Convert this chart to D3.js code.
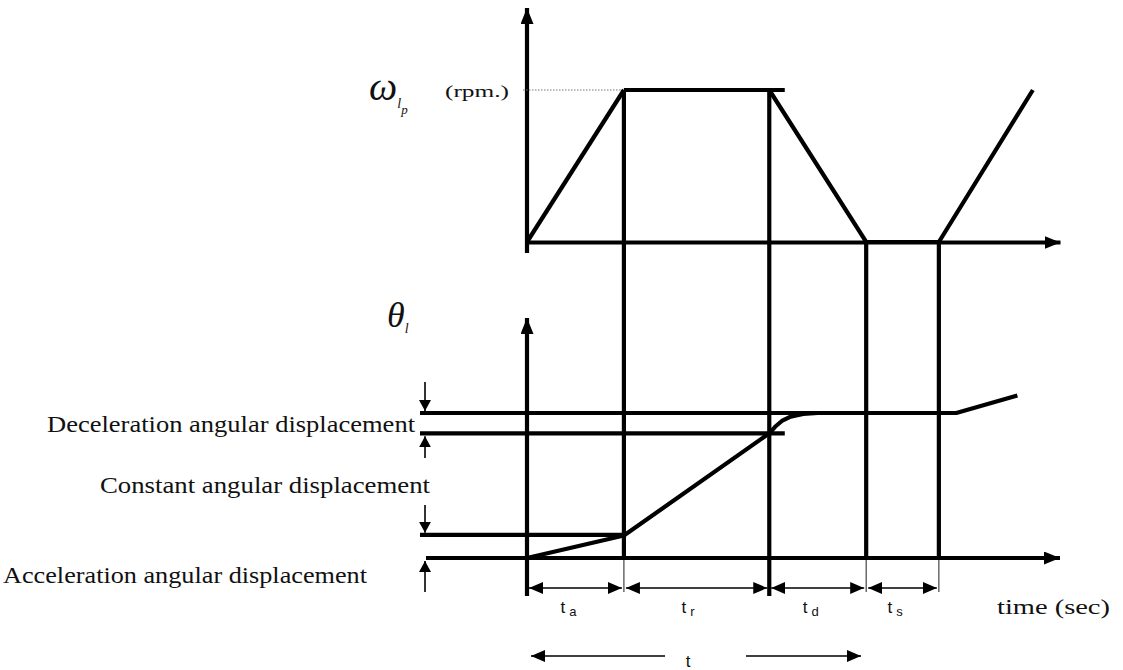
<!DOCTYPE html>
<html>
<head>
<meta charset="utf-8">
<script src="https://cdn.jsdelivr.net/npm/d3@7"></script>
<style>
  body { margin: 0; background: #fff; }
  svg { display: block; }
  .lbl { font-family: "Liberation Serif", "Times New Roman", serif; fill: #111; }
  .sub { font-family: "Liberation Sans", Arial, sans-serif; fill: #111; }
</style>
</head>
<body>
<svg id="chart" width="1123" height="670"></svg>
<script>
// ---- motion profile data (time in arbitrary units) ----
const phaseNames = ["a", "r", "d", "s"];          // t_a, t_r, t_d, t_s
const phaseStarts = [0, 1, 2.5, 3.5];
const phaseEnds = [1, 2.5, 3.5, 4.25];

// speed profile, normalised to the plateau speed
const omegaTimes = [0, 1, 2.5, 3.5, 4.25, 5.22];
const omegaValues = [0, 1, 1, 0, 0, 1];
const plateauEnd = 2.66;                            // plateau stroke overshoots the corner

// angular displacement, normalised to the full move
const thetaTimes = [0, 1, 2.5, 2.56, 2.63, 2.72, 2.85, 3.0, 4.43, 5.06];
const thetaValues = [0, 0.155, 0.86, 0.905, 0.945, 0.975, 0.993, 1.0, 1.0, 1.12];

// reference displacement levels drawn across the lower plot
const levelValues = [1.0, 0.86, 0.16, 0];
const levelEnds = [4.43, 2.66, 1, 5.5];
const levelNames = ["Deceleration angular displacement",
                    "Constant angular displacement",
                    "Acceleration angular displacement"];

const svg = d3.select("#chart");

const x = d3.scaleLinear().domain([0, 5.5]).range([527, 1060]);
const yW = d3.scaleLinear().domain([0, 1]).range([242, 90]);
const yT = d3.scaleLinear().domain([0, 1]).range([558, 413]);

// arrowhead markers
const defs = svg.append("defs");
function marker(id, len, half) {
  defs.append("marker")
    .attr("id", id)
    .attr("markerUnits", "userSpaceOnUse")
    .attr("viewBox", `0 ${-half} ${len} ${2 * half}`)
    .attr("refX", len).attr("refY", 0)
    .attr("markerWidth", len).attr("markerHeight", 2 * half)
    .attr("orient", "auto-start-reverse")
    .append("path")
    .attr("d", `M0,${-half}L${len},0L0,${half}Z`)
    .attr("fill", "#000");
}
marker("axisHead", 16, 6.5);
marker("dimHead", 14, 6);
marker("smallHead", 11, 6);

const thick = 4.2;

// ---------- upper plot: speed ----------
// time axis
const topAxis = svg.append("g")
  .attr("transform", `translate(0,${yW(0)})`)
  .call(d3.axisBottom(x).tickValues([]).tickSizeOuter(0));
topAxis.select(".domain").attr("stroke", "#000").attr("stroke-width", thick)
  .attr("marker-end", "url(#axisHead)");

// speed axis
svg.append("line")
  .attr("x1", x(0)).attr("x2", x(0))
  .attr("y1", yW(0) + 11).attr("y2", 8)
  .attr("stroke", "#000").attr("stroke-width", thick)
  .attr("marker-end", "url(#axisHead)");

// dotted guide at peak speed
svg.append("line")
  .attr("x1", x(0) - 4).attr("x2", x(1))
  .attr("y1", yW(1)).attr("y2", yW(1))
  .attr("stroke", "#777").attr("stroke-width", 1.2)
  .attr("stroke-dasharray", "1.5,1.5");

// speed trace
const wLine = d3.line().x(d => x(d[0])).y(d => yW(d[1]));
const wPts = omegaTimes.map((t, i) => [t, omegaValues[i]]);
svg.append("path")
  .attr("d", wLine(wPts.slice(0, 2)))
  .attr("fill", "none").attr("stroke", "#000").attr("stroke-width", thick);
svg.append("path")
  .attr("d", wLine([[1, 1], [plateauEnd, 1]]))
  .attr("fill", "none").attr("stroke", "#000").attr("stroke-width", thick);
svg.append("path")
  .attr("d", wLine(wPts.slice(2)))
  .attr("fill", "none").attr("stroke", "#000").attr("stroke-width", thick)
  .attr("stroke-linejoin", "miter");

// ---------- phase boundaries ----------
phaseEnds.forEach((t, i) => {
  const top = i < 2 ? yW(1) : yW(0);
  const heavyBottom = i === 1 ? 596 : yT(0);
  svg.append("line")
    .attr("x1", x(t)).attr("x2", x(t))
    .attr("y1", top).attr("y2", heavyBottom)
    .attr("stroke", "#000").attr("stroke-width", thick);
  if (i !== 1) {
    svg.append("line")
      .attr("x1", x(t)).attr("x2", x(t))
      .attr("y1", yT(0)).attr("y2", 592)
      .attr("stroke", "#333").attr("stroke-width", 1.1);
  }
});

// ---------- lower plot: angular displacement ----------
// displacement axis
svg.append("line")
  .attr("x1", x(0)).attr("x2", x(0))
  .attr("y1", 596).attr("y2", 318)
  .attr("stroke", "#000").attr("stroke-width", thick)
  .attr("marker-end", "url(#axisHead)");

// level lines (the zero level is the time axis)
const levelLeft = 420;
levelValues.forEach((v, i) => {
  const ln = svg.append("line")
    .attr("x1", levelLeft + (i === 3 ? 6 : 0)).attr("x2", x(levelEnds[i]))
    .attr("y1", yT(v)).attr("y2", yT(v))
    .attr("stroke", "#000").attr("stroke-width", thick);
  if (i === 3) ln.attr("marker-end", "url(#axisHead)");
});

// displacement trace
const tLine = d3.line().x(d => x(d[0])).y(d => yT(d[1]));
const tPts = thetaTimes.map((t, i) => [t, thetaValues[i]]);
svg.append("path")
  .attr("d", tLine(tPts))
  .attr("fill", "none").attr("stroke", "#000").attr("stroke-width", thick)
  .attr("stroke-linejoin", "round");

// dimension arrows at the left of the levels
const dimX = 425;
function vArrow(y1, y2) {
  svg.append("line")
    .attr("x1", dimX).attr("x2", dimX).attr("y1", y1).attr("y2", y2)
    .attr("stroke", "#000").attr("stroke-width", 1.6)
    .attr("marker-end", "url(#smallHead)");
}
vArrow(382, yT(levelValues[0]) - 2);
vArrow(458, yT(levelValues[1]) + 3);
vArrow(505, yT(levelValues[2]) - 2);
vArrow(592, yT(0) + 3);

// level captions
const capRight = [415, 430, 367];
const capBase = [432, 493, 583];
const capLen = [368, 330, 364];
levelNames.forEach((s, i) => {
  svg.append("text").attr("class", "lbl")
    .attr("x", capRight[i] - capLen[i]).attr("y", capBase[i])
    .attr("font-size", 23)
    .attr("textLength", capLen[i]).attr("lengthAdjust", "spacingAndGlyphs")
    .text(s);
});

// phase duration arrows
const dimY = 588;
phaseNames.forEach((p, i) => {
  const a = x(phaseStarts[i]) + 2, b = x(phaseEnds[i]) - 2;
  svg.append("line")
    .attr("x1", a).attr("x2", b).attr("y1", dimY).attr("y2", dimY)
    .attr("stroke", "#000").attr("stroke-width", 1.6)
    .attr("marker-start", "url(#dimHead)")
    .attr("marker-end", "url(#dimHead)");
  const cx = (x(phaseStarts[i]) + x(phaseEnds[i])) / 2;
  const g = svg.append("text").attr("class", "sub")
    .attr("x", cx - 15).attr("y", 613).attr("font-size", 17);
  g.append("tspan").text("t");
  g.append("tspan").attr("dx", 4).attr("dy", 3).attr("font-size", 13).text(p);
});

// total cycle arrow
svg.append("line")
  .attr("x1", 665).attr("x2", 531).attr("y1", 656).attr("y2", 656)
  .attr("stroke", "#000").attr("stroke-width", 1.6)
  .attr("marker-end", "url(#dimHead)");
svg.append("line")
  .attr("x1", 746).attr("x2", 861).attr("y1", 656).attr("y2", 656)
  .attr("stroke", "#000").attr("stroke-width", 1.6)
  .attr("marker-end", "url(#dimHead)");
svg.append("text").attr("class", "sub")
  .attr("x", 688).attr("y", 667).attr("font-size", 17)
  .attr("text-anchor", "middle").text("t");

// axis titles
svg.append("text").attr("class", "lbl")
  .attr("x", 997).attr("y", 614).attr("font-size", 22)
  .attr("textLength", 113).attr("lengthAdjust", "spacingAndGlyphs").text("time (sec)");

const wl = svg.append("text").attr("class", "lbl")
  .attr("x", 369).attr("y", 100).attr("font-size", 40).attr("font-style", "italic");
wl.append("tspan").text("ω");
wl.append("tspan").attr("dy", 8).attr("font-size", 14).text("l");
wl.append("tspan").attr("dy", 6).attr("font-size", 13).text("p");
svg.append("text").attr("class", "lbl")
  .attr("x", 445).attr("y", 97).attr("font-size", 17)
  .attr("textLength", 64).attr("lengthAdjust", "spacingAndGlyphs").text("(rpm.)");

const th = svg.append("text").attr("class", "lbl")
  .attr("x", 387).attr("y", 327).attr("font-size", 36).attr("font-style", "italic");
th.append("tspan").text("θ");
th.append("tspan").attr("dy", 6).attr("font-size", 14).text("l");
</script>
</body>
</html>
